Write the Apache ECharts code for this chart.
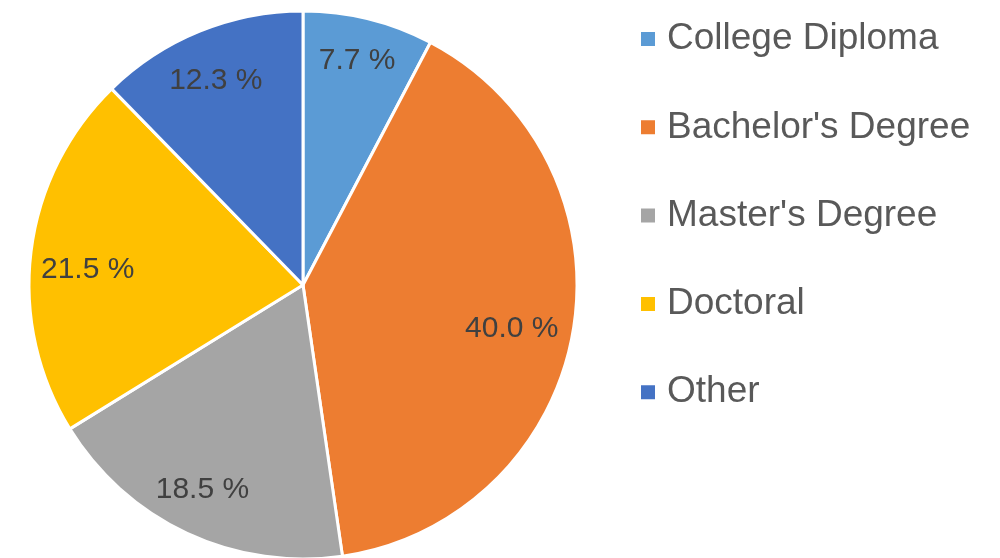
<!DOCTYPE html>
<html>
<head>
<meta charset="utf-8">
<script src="https://cdn.jsdelivr.net/npm/echarts@6/dist/echarts.min.js"></script>
<style>
  html, body { margin: 0; padding: 0; background: #fff; }
  #chart { width: 1000px; height: 558px; }
</style>
</head>
<body>
<div id="chart"></div>
<script>
const categories = ['College Diploma', "Bachelor's Degree", "Master's Degree", 'Doctoral', 'Other']
const shares = [7.7, 40.0, 18.5, 21.5, 12.3]
const colors = ['#5B9BD5', '#ED7D31', '#A5A5A5', '#FFC000', '#4472C4']
// small per-slice label nudges (px) to mimic the spreadsheet's "best fit" placement
const labelNudge = [[0, -5], [-14, 6], [-5, 0], [9, 12], [-2, 5]]

const pieData = categories.map((name, i) => ({ name, value: shares[i] }))
const center = [303, 285]
const fontFamily = 'Liberation Sans, Arial, sans-serif'

const chart = echarts.init(document.getElementById('chart'))
chart.setOption({
    animation: false,
    color: colors,
    legend: {
        orient: 'vertical',
        left: 639,
        top: 19,
        padding: 0,
        icon: 'rect',
        itemWidth: 16,
        itemHeight: 16,
        itemGap: 48.3,
        textStyle: {
            fontFamily: fontFamily,
            fontSize: 37,
            lineHeight: 40,
            color: '#595959',
            padding: [0, 0, 0, 6]
        },
        data: categories
    },
    series: [
        {
            // the visible pie
            type: 'pie',
            center: center,
            radius: [0, 274],
            startAngle: 90,
            clockwise: true,
            data: pieData,
            itemStyle: { borderColor: '#fff', borderWidth: 3 },
            label: { show: false },
            labelLine: { show: false },
            emphasis: { disabled: true }
        },
        {
            // transparent ring, only used to place the labels farther out
            type: 'pie',
            center: center,
            radius: [172, 274],
            startAngle: 90,
            clockwise: true,
            silent: true,
            legendHoverLink: false,
            data: pieData,
            itemStyle: { color: 'rgba(0,0,0,0)', borderWidth: 0 },
            label: {
                show: true,
                position: 'inside',
                fontFamily: fontFamily,
                fontSize: 30,
                color: '#404040',
                formatter: p => p.value.toFixed(1) + ' %'
            },
            labelLayout: p => ({ dx: labelNudge[p.dataIndex][0], dy: labelNudge[p.dataIndex][1] }),
            labelLine: { show: false },
            emphasis: { disabled: true }
        }
    ]
})
</script>
</body>
</html>
